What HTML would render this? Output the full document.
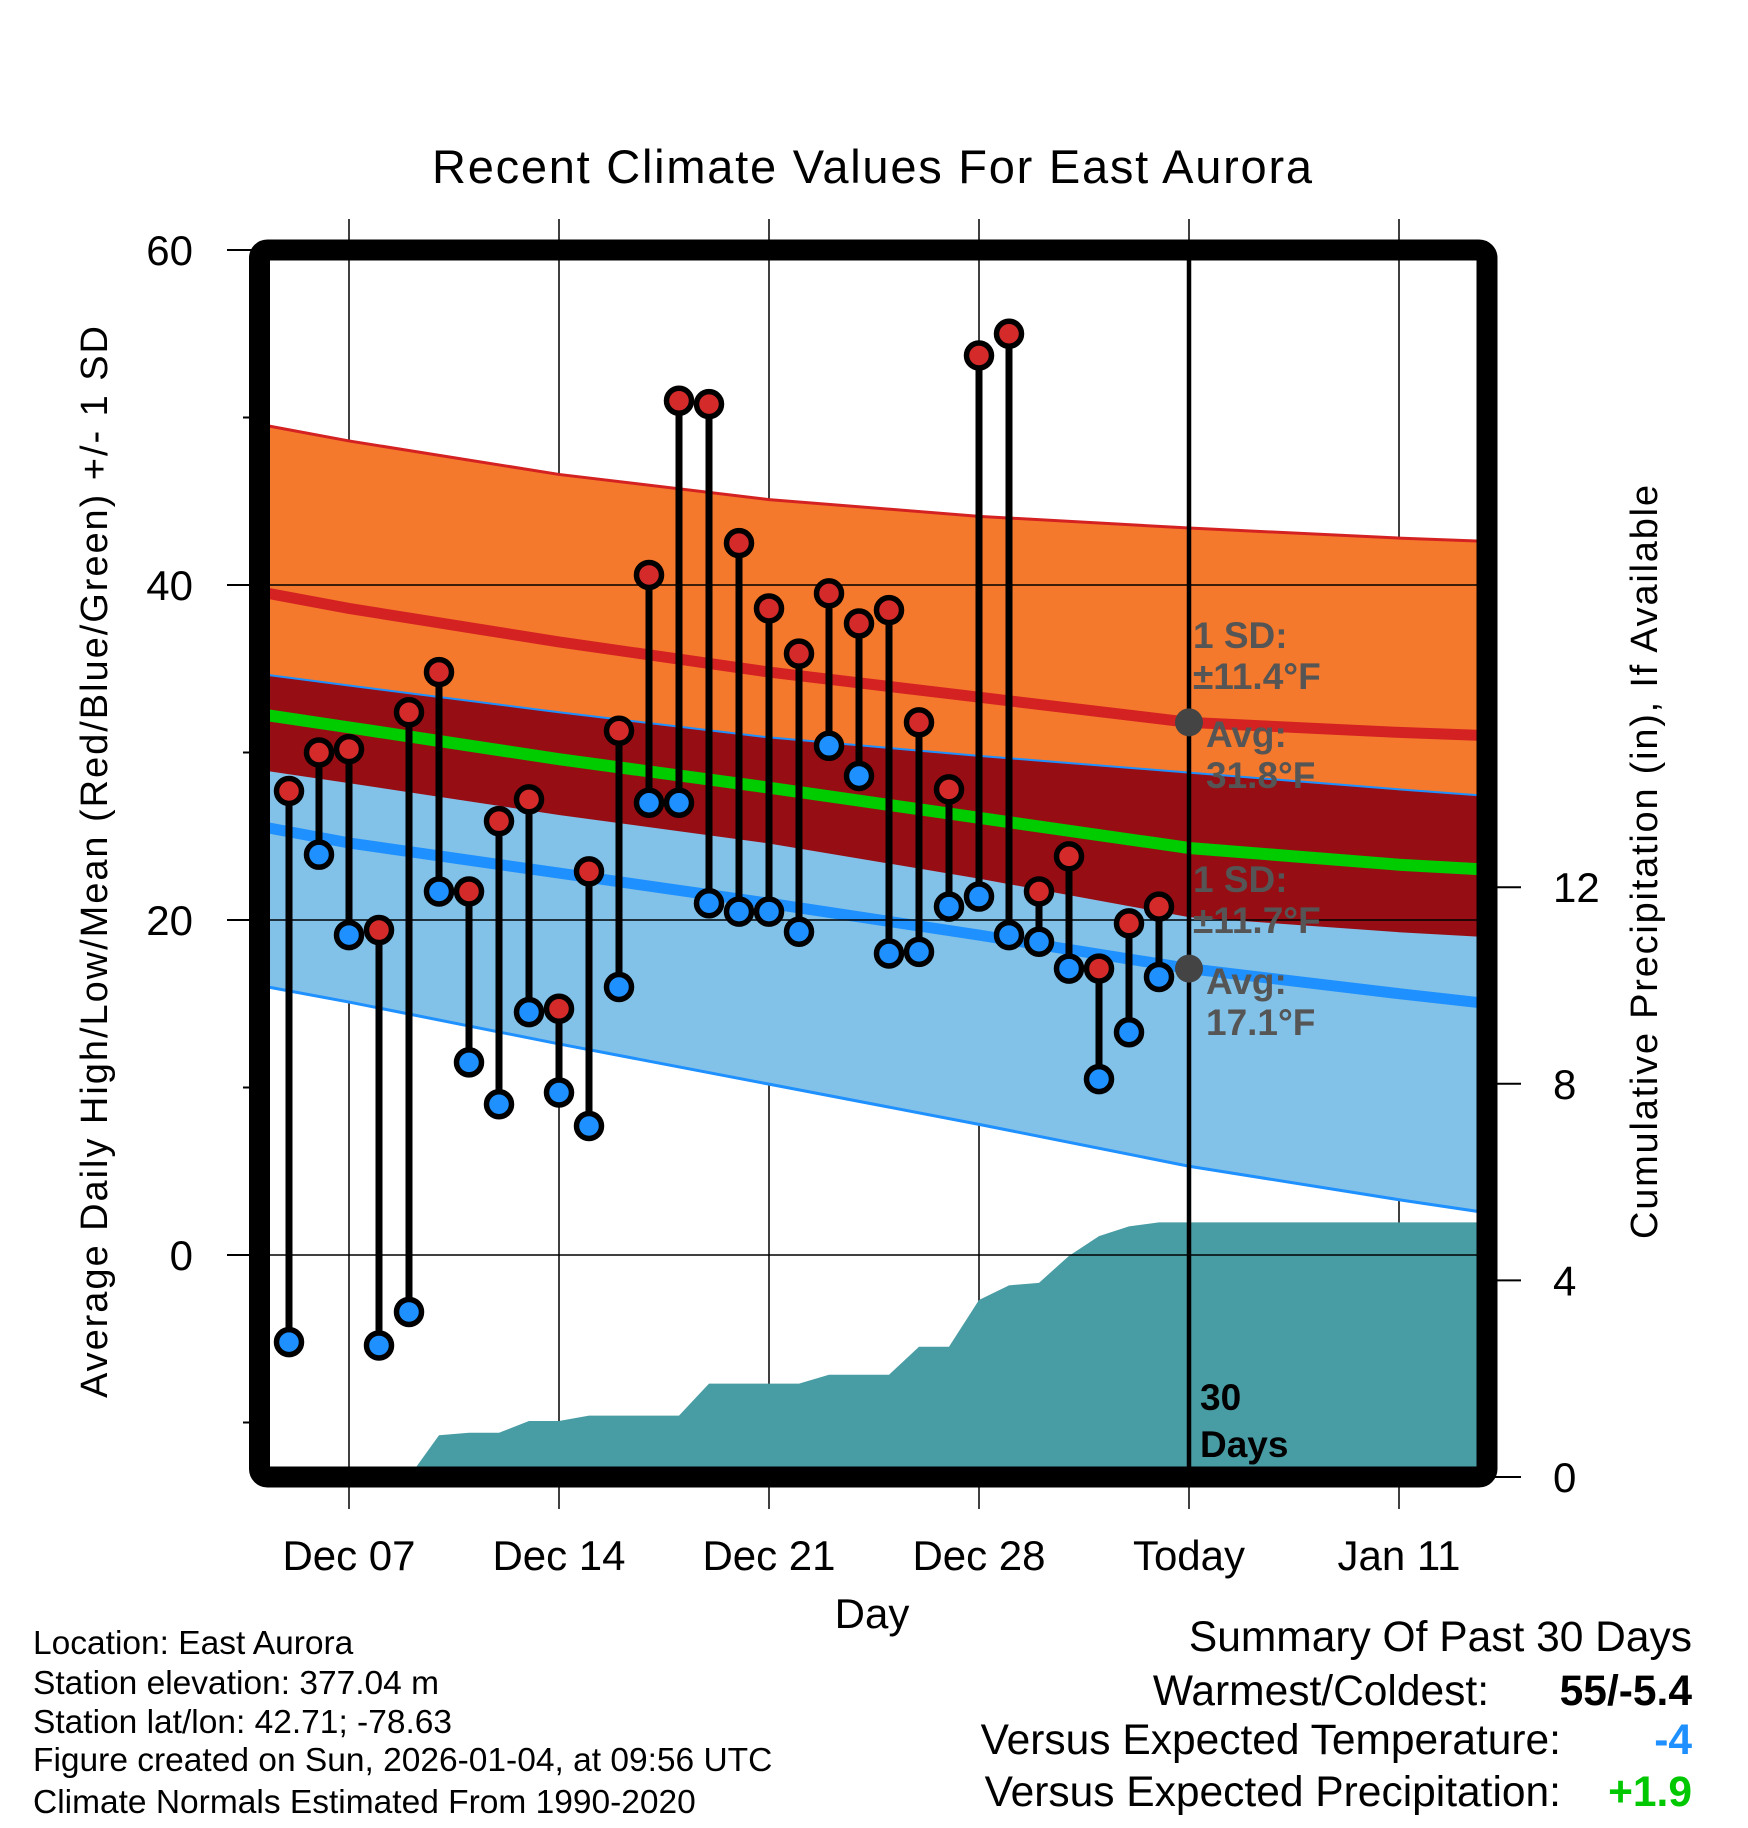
<!DOCTYPE html>
<html><head><meta charset="utf-8"><style>
html,body{margin:0;padding:0;background:#fff;}
svg{display:block;font-family:"Liberation Sans",Arial,sans-serif;}
</style></head><body>
<svg id="chart" width="1748" height="1828" viewBox="0 0 1748 1828" xmlns="http://www.w3.org/2000/svg">
<defs><clipPath id="plotclip"><rect x="259.5" y="250" width="1227.5" height="1227"/></clipPath></defs>
<text x="872" y="183" font-size="47" text-anchor="middle" textLength="880">Recent Climate Values For East Aurora</text>
<g id="grid"></g>
<g id="bands" clip-path="url(#plotclip)"></g>
<g id="precip" clip-path="url(#plotclip)"></g>
<g id="hgrid" clip-path="url(#plotclip)"></g>
<g id="annot"></g>
<g id="marks"></g>
<rect x="259.5" y="250" width="1227.5" height="1227" rx="8" fill="none" stroke="#000" stroke-width="21"/>
<g id="axes"></g>
<text transform="translate(107,862) rotate(-90)" font-size="38" text-anchor="middle" textLength="1072">Average Daily High/Low/Mean (Red/Blue/Green) +/- 1 SD</text>
<text transform="translate(1657,862) rotate(-90)" font-size="38" text-anchor="middle" textLength="754">Cumulative Precipitation (in), If Available</text>
<text x="872" y="1628" font-size="42" text-anchor="middle">Day</text>
<g font-size="33.5">
<text x="33" y="1654">Location: East Aurora</text>
<text x="33" y="1694">Station elevation: 377.04 m</text>
<text x="33" y="1733">Station lat/lon: 42.71; -78.63</text>
<text x="33" y="1771">Figure created on Sun, 2026-01-04, at 09:56 UTC</text>
<text x="33" y="1813">Climate Normals Estimated From 1990-2020</text>
</g>
<g font-size="42.5" text-anchor="end">
<text x="1692" y="1651">Summary Of Past 30 Days</text>
<text x="1489" y="1705">Warmest/Coldest:</text>
<text x="1692" y="1705" font-weight="bold">55/-5.4</text>
<text x="1561" y="1754">Versus Expected Temperature:</text>
<text x="1692" y="1754" font-weight="bold" fill="#1e90ff">-4</text>
<text x="1561" y="1806">Versus Expected Precipitation:</text>
<text x="1692" y="1806" font-weight="bold" fill="#00c800">+1.9</text>
</g>
</svg>
<script>
// ---- data ----
const obsDays = [5,6,7,8,9,10,11,12,13,14,15,16,17,18,19,20,21,22,23,24,25,26,27,28,29,30,31,32,33,34];
const highs = [27.7,30.0,30.2,19.4,32.4,34.8,21.7,25.9,27.2,14.7,22.9,31.3,40.6,51.0,50.8,42.5,38.6,35.9,39.5,37.7,38.5,31.8,27.8,53.7,55.0,21.7,23.8,17.1,19.8,20.8];
const lows = [-5.2,23.9,19.1,-5.4,-3.4,21.7,11.5,9.0,14.5,9.7,7.7,16.0,27.0,27.0,21.0,20.5,20.5,19.3,30.4,28.6,18.0,18.1,20.8,21.4,19.1,18.7,17.1,10.5,13.3,16.6];
const normDays = [4,7,14,21,28,35,42,45];
const highSDup = [49.6,48.6,46.6,45.1,44.1,43.4,42.8,42.6];
const highMean = [39.6,38.6,36.6,34.8,33.3,31.8,31.2,31.0];
const highSDdn = [34.7,34.0,32.4,30.9,29.8,28.8,27.8,27.4];
const meanLine = [32.3,31.5,29.6,27.9,26.1,24.3,23.3,23.0];
const lowSDup = [29.0,28.2,26.3,24.6,22.5,20.2,19.3,19.0];
const lowMean = [25.6,24.6,22.8,21.0,19.1,17.1,15.6,15.0];
const lowSDdn = [16.1,15.1,12.6,10.2,7.8,5.3,3.3,2.5];
const precipDays = [9,10,11,12,13,14,15,16,17,18,19,20,21,22,23,24,25,26,27,28,29,30,31,32,33,34];
const precipVals = [0,0.85,0.9,0.9,1.14,1.14,1.25,1.25,1.25,1.25,1.9,1.9,1.9,1.9,2.08,2.08,2.08,2.65,2.65,3.6,3.9,3.95,4.5,4.9,5.1,5.18];
const xTickDays = [7,14,21,28,35,42];
const xTickLabels = ["Dec 07","Dec 14","Dec 21","Dec 28","Today","Jan 11"];
const yTicks = [0,20,40,60];
const yMinor = [-10,10,30,50];
const pTicks = [0,4,8,12];
const todayDay = 35;
const highAvgToday = 31.8, lowAvgToday = 17.1;
// ---- scales ----
const X = d => 349 + (d - 7) * 30;
const Y = v => 1255 - v * 16.75;
const P = p => 1477 - p * 49.15;
const NS = "http://www.w3.org/2000/svg";
function mk(tag, attrs, parent){const e=document.createElementNS(NS,tag);for(const k in attrs)e.setAttribute(k,attrs[k]);parent.appendChild(e);return e;}
const g = id => document.getElementById(id);
const line = arr => normDays.map((d,i)=>X(d)+","+Y(arr[i])).join(" ");
const band = (a,b) => line(a)+" "+normDays.map((d,i)=>X(d)+","+Y(b[i])).reverse().join(" ");
let e;
e=mk("polygon",{points:band(highSDup,highSDdn),fill:"#f5792c"},g("bands"));


e=mk("polygon",{points:band(highSDdn,lowSDup),fill:"#960e14"},g("bands"));


e=mk("polygon",{points:band(lowSDup,lowSDdn),fill:"#82c1e8"},g("bands"));


const lines=[[highSDup,"#d42222",3,'high-plus-sd-line'],[highMean,"#d42222",11,'high-mean-line'],[highSDdn,"#1e90ff",2,'high-minus-sd-line'],[meanLine,"#00cc00",12,'mean-line'],[lowSDup,"#960e14",1,'low-plus-sd-line'],[lowMean,"#1e90ff",11,'low-mean-line'],[lowSDdn,"#1e90ff",3,'low-minus-sd-line']];
lines.forEach(l=>{e=mk("polyline",{points:line(l[0]),fill:"none",stroke:l[1],"stroke-width":l[2]},g("bands"));

});
let pts=[X(3)+","+P(0),X(precipDays[0])+","+P(0)];
precipDays.forEach((d,i)=>pts.push(X(d)+","+P(precipVals[i])));
pts.push(X(46)+","+P(precipVals[precipVals.length-1]),X(46)+","+P(0));
e=mk("polygon",{points:pts.join(" "),fill:"#489ca4"},g("precip"));


xTickDays.forEach((d,i)=>{e=mk("line",{x1:X(d),x2:X(d),y1:219,y2:1509,stroke:"#000","stroke-width":1.5},g("grid"));


e=mk("text",{x:X(d),y:1570,"font-size":42,"text-anchor":"middle"},g("axes"));e.textContent=xTickLabels[i];

});
yTicks.forEach(v=>{e=mk("line",{x1:259,x2:1487,y1:Y(v),y2:Y(v),stroke:"#000","stroke-width":1.5},g("hgrid"));


e=mk("line",{x1:227,x2:260,y1:Y(v),y2:Y(v),stroke:"#000","stroke-width":2},g("axes"));


e=mk("text",{x:193,y:Y(v)+15,"font-size":42,"text-anchor":"end"},g("axes"));e.textContent=v;

});
yMinor.forEach(v=>{e=mk("line",{x1:243,x2:260,y1:Y(v),y2:Y(v),stroke:"#000","stroke-width":2},g("axes"));

});
pTicks.forEach(p=>{e=mk("line",{x1:1487,x2:1521,y1:P(p),y2:P(p),stroke:"#000","stroke-width":2},g("axes"));


e=mk("text",{x:1553,y:P(p)+15,"font-size":42},g("axes"));e.textContent=p;

});
e=mk("line",{x1:X(todayDay),x2:X(todayDay),y1:250,y2:1477,stroke:"#000","stroke-width":4.5},g("annot"));


[highAvgToday,lowAvgToday].forEach(v=>{e=mk("circle",{cx:X(todayDay),cy:Y(v),r:14,fill:"#444"},g("annot"));

});
const ann=[["1 SD:",1193,648],["±11.4°F",1193,689],["Avg:",1206,747],["31.8°F",1206,788],["1 SD:",1193,892],["±11.7°F",1193,933],["Avg:",1206,994],["17.1°F",1206,1035]];
ann.forEach(a=>{e=mk("text",{x:a[1],y:a[2],"font-size":37,"font-weight":"bold",fill:"#555"},g("annot"));e.textContent=a[0];

});
[["30",1410],["Days",1457]].forEach(a=>{e=mk("text",{x:1200,y:a[1],"font-size":37,"font-weight":"bold"},g("annot"));e.textContent=a[0];

});
obsDays.forEach((d,i)=>{
e=mk("line",{x1:X(d),x2:X(d),y1:Y(highs[i]),y2:Y(lows[i]),stroke:"#000","stroke-width":7},g("marks"));


e=mk("circle",{cx:X(d),cy:Y(highs[i]),r:12.5,fill:"#d42a2a",stroke:"#000","stroke-width":5.5},g("marks"));


e=mk("circle",{cx:X(d),cy:Y(lows[i]),r:12.5,fill:"#1e90ff",stroke:"#000","stroke-width":5.5},g("marks"));


});
</script>
</body></html>
